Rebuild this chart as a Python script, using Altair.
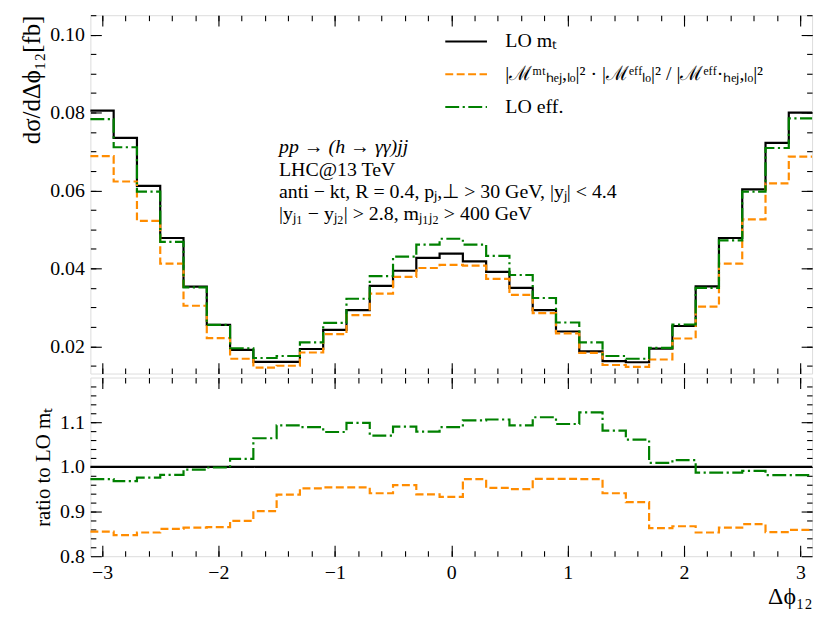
import altair as alt
import pandas as pd

FONT = "Liberation Serif"

# ---- data ----
bin_edges = [-3.1, -2.9, -2.7, -2.5, -2.3, -2.1, -1.9, -1.7, -1.5, -1.3, -1.1,
             -0.9, -0.7, -0.5, -0.3, -0.1, 0.1, 0.3, 0.5, 0.7, 0.9, 1.1,
             1.3, 1.5, 1.7, 1.9, 2.1, 2.3, 2.5, 2.7, 2.9, 3.1]

lo_mt = [0.0805, 0.0735, 0.0612, 0.0478, 0.0353, 0.0255, 0.0191, 0.0160, 0.0160, 0.0193, 0.0242,
         0.0293, 0.0355, 0.0394, 0.0427, 0.0438, 0.0418, 0.0391, 0.0350, 0.0293, 0.0238,
         0.0187, 0.0162, 0.0159, 0.0194, 0.0252, 0.0354, 0.0478, 0.0603, 0.0722, 0.0800]

hej_rw = [0.0688, 0.0623, 0.0522, 0.0412, 0.0304, 0.0221, 0.0168, 0.0145, 0.0150, 0.0184, 0.0231,
          0.0280, 0.0335, 0.0378, 0.0401, 0.0409, 0.0407, 0.0373, 0.0332, 0.0285, 0.0233,
          0.0183, 0.0152, 0.0147, 0.0166, 0.0220, 0.0302, 0.0412, 0.0526, 0.0618, 0.0687]

lo_eff = [0.0783, 0.0711, 0.0597, 0.0468, 0.0351, 0.0255, 0.0195, 0.0170, 0.0175, 0.0210, 0.0260,
          0.0322, 0.0380, 0.0430, 0.0461, 0.0476, 0.0461, 0.0432, 0.0383, 0.0324, 0.0261,
          0.0210, 0.0175, 0.0168, 0.0196, 0.0256, 0.0350, 0.0472, 0.0597, 0.0709, 0.0785]

ratio_hej = [0.855, 0.847, 0.853, 0.861, 0.864, 0.865, 0.879, 0.901, 0.938, 0.952, 0.954,
             0.954, 0.941, 0.959, 0.9385, 0.933, 0.9726, 0.953, 0.950, 0.973, 0.973,
             0.9726, 0.941, 0.921, 0.863, 0.867, 0.853, 0.864, 0.872, 0.854, 0.859]

ratio_eff = [0.9726, 0.968, 0.976, 0.982, 0.994, 0.9985, 1.018, 1.064, 1.093, 1.089, 1.078,
             1.0985, 1.070, 1.090, 1.079, 1.089, 1.104, 1.106, 1.093, 1.111, 1.096,
             1.122, 1.081, 1.061, 1.009, 1.015, 0.987, 0.987, 0.991, 0.9815, 0.9815]

ratio_mt = [a / a for a in lo_mt]

series_names = ["LO mₜ",
                "|ℳᵐᵗₕₑⱼ,ₗₒ|² · |ℳᵉᶠᶠₗₒ|² / |ℳᵉᶠᶠ·ₕₑⱼ,ₗₒ|²",
                "LO eff."]
series_colors = ["#000000", "#ff8c00", "#008000"]
series_dashes = [[1, 0], [8, 3.5], [14, 3.5, 2.2, 3.5]]

x_major = [-3, -2, -1, 0, 1, 2, 3]
x_minor = [round(-3 + 0.2 * i, 1) for i in range(31)]
top_major = [0.02, 0.04, 0.06, 0.08, 0.10]
top_minor = [round(0.015 + 0.005 * i, 3) for i in range(19)]
low_major = [0.8, 0.9, 1.0, 1.1]
low_minor = [round(0.82 + 0.02 * i, 2) for i in range(19)]


def steps(values, name):
    ys = list(values) + [values[-1]]
    return pd.DataFrame({"x": bin_edges, "y": ys, "series": name})


MAJ = 11
MIN = 5.5
W = 727
LBL = 20


def axis(orient, values, size, labels=False, fmt=None, title=None, **kw):
    d = dict(orient=orient, values=values, tickSize=size, offset=-size, domain=False,
             grid=False, labels=labels, ticks=True, tickColor="black", tickWidth=1.1,
             labelFont=FONT, labelFontSize=LBL, labelColor="black", labelPadding=6,
             labelFlush=False, labelOverlap=False, title=title)
    if fmt is not None:
        d["format"] = fmt
    d.update(kw)
    return alt.Axis(**d)


xscale = alt.Scale(domain=[-3.1, 3.1], nice=False, zero=False)


def legend():
    return alt.Legend(orient="none", legendX=356, legendY=4, title=None,
                      symbolType="stroke", symbolSize=1764,
                      symbolStrokeWidth=2.2, labelFontSize=LBL, labelFontWeight="normal",
                      labelFont=FONT, labelColor="black",
                      labelOffset=17, rowPadding=-13, labelLimit=0)


color_enc = alt.Color("series:N", scale=alt.Scale(domain=series_names, range=series_colors),
                      legend=legend())
dash_enc = alt.StrokeDash("series:N", scale=alt.Scale(domain=series_names, range=series_dashes),
                          legend=legend())


def panel(frames, yscale, yaxes, xaxes, use_scale):
    layers = []
    for i, df in enumerate(frames + [frames[0]]):
        xa = xaxes[i]
        ya = yaxes[i]
        base = alt.Chart(df)
        if i < 3:
            m = base.mark_line(interpolate="step-after", strokeWidth=2.2)
            if use_scale:
                enc = dict(color=color_enc, strokeDash=dash_enc)
            else:
                enc = dict(color=alt.value(series_colors[i]),
                           strokeDash=alt.value(series_dashes[i]))
        else:
            m = base.mark_line(interpolate="step-after", opacity=0)
            enc = {}
        layers.append(m.encode(x=alt.X("x:Q", scale=xscale, axis=xa),
                               y=alt.Y("y:Q", scale=yscale, axis=ya), **enc))
    return layers


# ---- top panel ----
top_scale = alt.Scale(domain=[0.013, 0.105], nice=False, zero=False)
top_frames = [steps(lo_mt, series_names[0]), steps(hej_rw, series_names[1]),
              steps(lo_eff, series_names[2])]
top_y = [axis("left", top_major, MAJ, labels=True, fmt=".2f", title="dσ/dΔϕ₁₂[fb]",
              titleAnchor="end", titleFont=FONT, titleFontSize=25, titleFontWeight="normal",
              titleColor="black", titlePadding=5),
         axis("right", top_major, MAJ),
         axis("left", top_minor, MIN),
         axis("right", top_minor, MIN)]
top_x = [axis("bottom", x_major, MAJ), axis("top", x_major, MAJ),
         axis("bottom", x_minor, MIN), axis("top", x_minor, MIN)]

top_layers = panel(top_frames, top_scale, top_y, top_x, True)


def note(text, y, italic=False):
    return alt.Chart(pd.DataFrame({"t": [text]})).mark_text(
        align="left", baseline="middle", font=FONT, fontSize=20, color="black",
        fontStyle="italic" if italic else "normal"
    ).encode(x=alt.value(190), y=alt.value(y), text="t:N")


notes = [note("pp → (h → γγ)jj", 133, italic=True),
         note("LHC@13 TeV", 156),
         note("anti − kt, R = 0.4, pⱼ,⊥ > 30 GeV, |yⱼ| < 4.4", 178),
         note("|yⱼ₁ − yⱼ₂| > 2.8, mⱼ₁ⱼ₂ > 400 GeV", 200)]

top = alt.layer(*top_layers, *notes).resolve_axis(x="independent", y="independent").properties(
    width=W, height=361)

# ---- ratio panel ----
low_scale = alt.Scale(domain=[0.8, 1.2], nice=False, zero=False)
low_frames = [steps(ratio_mt, series_names[0]), steps(ratio_hej, series_names[1]),
              steps(ratio_eff, series_names[2])]
low_y = [axis("left", low_major, MAJ, labels=True, fmt=".1f", title="ratio to LO mₜ",
              titleFont=FONT, titleFontSize=21, titleFontWeight="normal",
              titleColor="black", titlePadding=6),
         axis("right", low_major, MAJ),
         axis("left", low_minor, MIN),
         axis("right", low_minor, MIN)]
low_x = [axis("bottom", x_major, MAJ, labels=True, fmt="d", title="Δϕ₁₂",
              titleAnchor="end", titleFont=FONT, titleFontSize=24, titleFontWeight="normal",
              titleColor="black", titlePadding=3),
         axis("top", x_major, MAJ),
         axis("bottom", x_minor, MIN),
         axis("top", x_minor, MIN)]

low_layers = panel(low_frames, low_scale, low_y, low_x, False)
low = alt.layer(*low_layers).resolve_axis(x="independent", y="independent").properties(
    width=W, height=180)

chart = alt.vconcat(top, low, spacing=0).resolve_scale(
    color="independent", strokeDash="independent"
).resolve_legend(color="independent", strokeDash="independent").properties(
    padding={"left": 11, "top": 3, "right": 5, "bottom": 5},
    background="white"
).configure_view(stroke="black", strokeWidth=1.2).configure(font=FONT)

chart.save("out.html", embed_options={"renderer": "svg", "actions": False})
